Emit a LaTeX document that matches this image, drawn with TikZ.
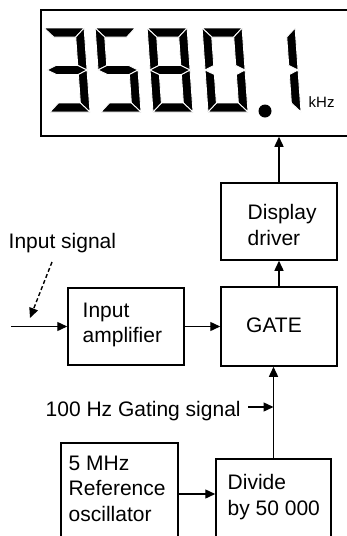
\documentclass[tikz,border=0pt]{standalone}
\usepackage{fontspec}
\setmainfont{Liberation Sans}
\usetikzlibrary{arrows.meta}
\newcommand\segmA{\filldraw[seg] (0,84)--(40,84)--(31,75)--(9,75)--cycle;}
\newcommand\segmB{\filldraw[seg] (40,84)--(40,42)--(31,46.5)--(31,75)--cycle;}
\newcommand\segmC{\filldraw[seg] (40,42)--(40,0)--(31,9)--(31,37.5)--cycle;}
\newcommand\segmD{\filldraw[seg] (0,0)--(40,0)--(31,9)--(9,9)--cycle;}
\newcommand\segmE{\filldraw[seg] (0,42)--(0,0)--(9,9)--(9,37.5)--cycle;}
\newcommand\segmF{\filldraw[seg] (0,84)--(0,42)--(9,46.5)--(9,75)--cycle;}
\newcommand\segmG{\filldraw[seg] (0,42)--(9,46.5)--(31,46.5)--(40,42)--(31,37.5)--(9,37.5)--cycle;}
\newcommand\segdigit[2]{%
  \begin{scope}[shift={(#1,112)},yscale=-1,xslant=0.07]
    \foreach \s in {#2} {\csname segm\s\endcsname}
  \end{scope}}
\begin{document}
\begin{tikzpicture}[x=1pt,y=-1pt,line width=1.4pt,
  box/.style={draw,line width=1.5pt,rectangle,inner sep=0pt},
  lbl/.style={inner sep=0pt,align=left,font=\fontsize{21}{25.5}\selectfont},
  arr/.style={-{Triangle[length=10pt,width=9pt]}},
  seg/.style={fill=black,draw=white,line width=0.9pt}]
\useasboundingbox (0,0) rectangle (347,536);
\clip (0,0) rectangle (347,536);

% boxes
\node[box,minimum width=325pt,minimum height=126pt] (display) at (203.5,73) {};
\node[box,minimum width=116pt,minimum height=77pt] (driver) at (279,221.5) {};
\node[box,minimum width=116pt,minimum height=79pt] (gate) at (279,326.5) {};
\node[box,minimum width=116pt,minimum height=77pt] (amp) at (126,326.5) {};
\node[box,minimum width=117pt,minimum height=102pt] (osc) at (119.5,494) {};
\node[box,minimum width=115pt,minimum height=101pt] (divide) at (273.5,509.5) {};

% seven-segment readout
\segdigit{50}{A,B,G,C,D}
\segdigit{101}{A,F,G,C,D}
\segdigit{153}{A,B,C,D,E,F,G}
\segdigit{208}{A,B,C,D,E,F}
\segdigit{261}{B,C}
\fill (265,111) circle (6.5);
\node[inner sep=0pt,anchor=base west,font=\fontsize{15}{15}\selectfont] (khz) at (308,107) {kHz};

% texts
\node[lbl,anchor=north west] (tdriver) at (247,204) {Display\\driver};
\node[lbl,anchor=base] (tgate) at (274,332) {GATE};
\node[lbl,anchor=north west] (tamp) at (82,302) {Input\\amplifier};
\node[lbl,anchor=north west] (tosc) at (68,455) {5 MHz\\Reference\\oscillator};
\node[lbl,anchor=north west] (tdiv) at (227,474) {Divide\\by 50 000};
\node[lbl,anchor=base west] (insig) at (8,248) {Input signal};
\node[lbl,anchor=base west] (gsig) at (45,416.5) {100 Hz Gating signal};

% connectors
\coordinate (in) at (11,326.5);
\coordinate (gs) at (248,407);
\coordinate (dstart) at (52,262);
\coordinate (dend) at (30,318);
\draw[arr] (driver.north) -- (driver.north |- display.south);
\draw[arr] (gate.north) -- (driver.south);
\draw[arr] (in) -- (amp.west);
\draw[arr] (amp.east) -- (gate.west);
\draw[arr] (divide.north) -- (divide.north |- gate.south);
\draw[arr] (gs) -- (gs -| divide.north);
\draw[arr] (osc.east) -- (osc.east -| divide.west);
\draw[arr,dashed,dash pattern=on 4pt off 2.5pt] (dstart) -- (dend);
\end{tikzpicture}
\end{document}
